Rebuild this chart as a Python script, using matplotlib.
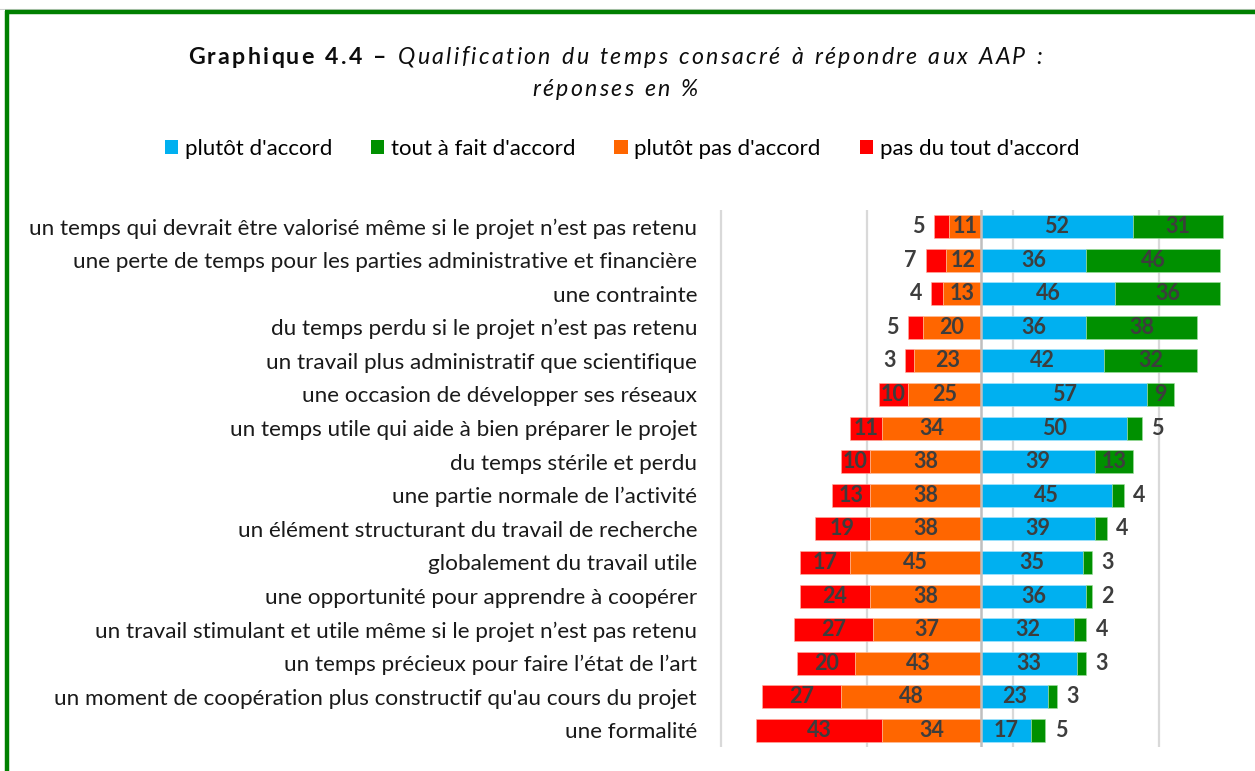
import matplotlib
matplotlib.use("Agg")
import matplotlib.pyplot as plt
from matplotlib.patches import Patch
from matplotlib.lines import Line2D

# ---- data -------------------------------------------------------------
categories = [
    "un temps qui devrait être valorisé même si le projet n’est pas retenu",
    "une perte de temps pour les parties administrative et financière",
    "une contrainte",
    "du temps perdu si le projet n’est pas retenu",
    "un travail plus administratif que scientifique",
    "une occasion de développer ses réseaux",
    "un temps utile qui aide à bien préparer le projet",
    "du temps stérile et perdu",
    "une partie normale de l’activité",
    "un élément structurant du travail de recherche",
    "globalement du travail utile",
    "une opportunité pour apprendre à coopérer",
    "un travail stimulant et utile même si le projet n’est pas retenu",
    "un temps précieux pour faire l’état de l’art",
    "un moment de coopération plus constructif qu'au cours du projet",
    "une formalité",
]
pas_du_tout = [5, 7, 4, 5, 3, 10, 11, 10, 13, 19, 17, 24, 27, 20, 27, 43]
plutot_pas = [11, 12, 13, 20, 23, 25, 34, 38, 38, 38, 45, 38, 37, 43, 48, 34]
plutot = [52, 36, 46, 36, 42, 57, 50, 39, 45, 39, 35, 36, 32, 33, 23, 17]
tout_a_fait = [31, 46, 36, 38, 32, 9, 5, 13, 4, 4, 3, 2, 4, 3, 3, 5]

series_names = ["plutôt d'accord", "tout à fait d'accord",
                "plutôt pas d'accord", "pas du tout d'accord"]
grid_values = [-89, -39, 11, 61]

# ---- style ------------------------------------------------------------
C_BLUE = "#00B0F0"
C_GREEN = "#009000"
C_ORANGE = "#FF6600"
C_RED = "#FF0000"
VAL_COLOR = "#3d3d3d"
FONT = "Lato"

W, H = 1255, 771
fig = plt.figure(figsize=(W / 100, H / 100), dpi=100)
fig.patch.set_facecolor("white")


def fx(px):
    return px / W


def fy(py):
    return 1 - py / H


# plot area in pixel coordinates
ax_l, ax_r, ax_t, ax_b = 712.4, 1249.6, 209.7, 747.3
ax = fig.add_axes([fx(ax_l), fy(ax_b), fx(ax_r - ax_l), (ax_b - ax_t) / H])

n = len(categories)
ys = list(range(n))
bh = 0.685

for g in grid_values:
    ax.axvline(g, color="#d9d9d9", lw=1.6, zorder=0)
ax.axvline(0, color="#bfbfbf", lw=1.8, zorder=3)

neg_left_red = [-(a + b) for a, b in zip(pas_du_tout, plutot_pas)]
neg_left_orange = [-b for b in plutot_pas]

ax.barh(ys, pas_du_tout, left=neg_left_red, height=bh, color=C_RED,
        edgecolor="#ffb0a0", linewidth=0.4, zorder=2)
ax.barh(ys, plutot_pas, left=neg_left_orange, height=bh, color=C_ORANGE,
        edgecolor="#ffc0a0", linewidth=0.4, zorder=2)
ax.barh(ys, plutot, left=0, height=bh, color=C_BLUE,
        edgecolor="#b0e8ff", linewidth=0.4, zorder=2)
ax.barh(ys, tout_a_fait, left=plutot, height=bh, color=C_GREEN,
        edgecolor="#a0e0a0", linewidth=0.4, zorder=2)

lab_kw = dict(color=VAL_COLOR, fontsize=15.5, fontweight="bold",
              family=FONT, va="center", zorder=4)
THRESH = 8
for i in ys:
    r, o, b, g = pas_du_tout[i], plutot_pas[i], plutot[i], tout_a_fait[i]
    # disagreement side
    if r >= THRESH:
        ax.text(-o - r / 2, i, str(r), ha="center", **lab_kw)
    else:
        ax.text(-o - r - 3.2, i, str(r), ha="right", **lab_kw)
    ax.text(-o / 2, i, str(o), ha="center", **lab_kw)
    # agreement side
    ax.text(b / 2, i, str(b), ha="center", **lab_kw)
    if g >= THRESH:
        ax.text(b + g / 2, i, str(g), ha="center", **lab_kw)
    else:
        ax.text(b + g + 3.2, i, str(g), ha="left", **lab_kw)

ax.set_xlim(-92, 92)
ax.set_ylim(n - 0.5, -0.5)
ax.set_yticks(ys)
ax.set_yticklabels(categories, family=FONT, fontsize=16.2, color="#1a1a1a")
ax.tick_params(axis="y", length=0, pad=11)
ax.set_xticks([])
for s in ax.spines.values():
    s.set_visible(False)

# ---- title (tracked text runs) ----------------------------------------
renderer = fig.canvas.get_renderer()


def tracked_line(runs, cx, py, size, tracking):
    """Draw runs of (text, weight, style) centred at cx with letter spacing."""
    pieces = []
    for txt, weight, style in runs:
        for ch in txt:
            t = fig.text(0, 0, ch, fontsize=size, family=FONT,
                         fontweight=weight, fontstyle=style, va="center",
                         ha="left", color="#0d0d0d")
            w = t.get_window_extent(renderer).width
            if ch == " ":
                w = size * 0.28 * 100 / 72
            pieces.append((t, w))
    total = sum(w for _, w in pieces) + tracking * (len(pieces) - 1)
    x = cx - total / 2
    for t, w in pieces:
        t.set_position((fx(x), fy(py)))
        x += w + tracking


tracked_line([("Graphique 4.4 – ", "bold", "normal"),
              ("Qualification du temps consacré à répondre aux AAP :",
               "normal", "italic")], 615, 57, 16.7, 2.3)
tracked_line([("réponses en %", "normal", "italic")], 615, 89, 16.7, 2.3)

# ---- legend -----------------------------------------------------------
handles = [Patch(facecolor=c, edgecolor="none")
           for c in (C_BLUE, C_GREEN, C_ORANGE, C_RED)]
fig.legend(handles, series_names, ncol=4, loc="center",
           bbox_to_anchor=(fx(622), fy(149)), frameon=False,
           prop={"family": FONT, "size": 16},
           handlelength=0.6, handleheight=0.6, handletextpad=0.3,
           columnspacing=1.75)

# ---- green frame ------------------------------------------------------
fig.add_artist(Line2D([fx(0), fx(W)], [fy(9), fy(9)], color="#d0d0d0",
                      lw=0.8, transform=fig.transFigure))
fig.add_artist(Line2D([fx(5), fx(W)], [fy(12), fy(12)], color="#008000",
                      lw=3.2, transform=fig.transFigure,
                      solid_capstyle="butt"))
fig.add_artist(Line2D([fx(7), fx(7)], [fy(10.5), fy(H)], color="#008000",
                      lw=3.2, transform=fig.transFigure,
                      solid_capstyle="butt"))

fig.savefig("out.png", dpi=100, facecolor="white")
